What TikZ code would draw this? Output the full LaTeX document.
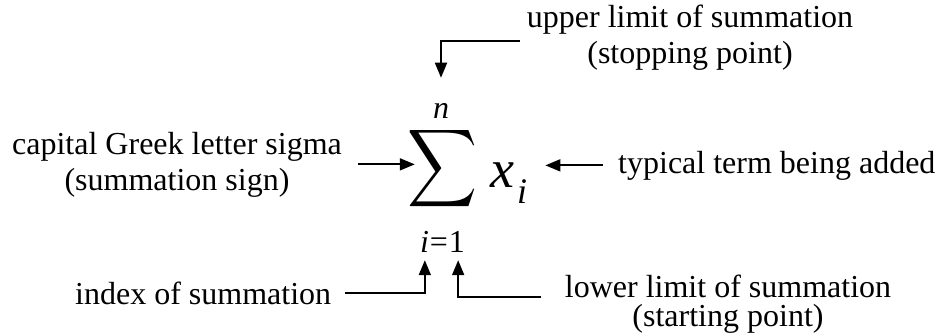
\documentclass[tikz,border=0pt]{standalone}
\usepackage{fontspec}
\setmainfont{Liberation Serif}
\usepackage{graphicx}
\usetikzlibrary{arrows.meta}
\begin{document}
\begin{tikzpicture}[x=1pt,y=-1pt,
  lbl/.style={inner sep=0pt, font=\fontsize{32}{36}\selectfont, align=center},
  arr/.style={line width=1.8pt, -{Triangle[length=15pt,width=12pt]}},
  mth/.style={inner sep=0pt}]
\useasboundingbox (0,0) rectangle (941,333);
% labels (base anchor = baseline of the last line)
\node[lbl, anchor=base] (up) at (690,63) {upper limit of summation\\(stopping point)};
\node[lbl, anchor=base] (cap) at (177,190) {capital Greek letter sigma\\(summation sign)};
\node[lbl, anchor=base west] (typ) at (618,173) {typical term being added};
\node[lbl, anchor=base west] (idx) at (75,304) {index of summation};
\node[lbl, anchor=base, font=\fontsize{32}{29}\selectfont] (low) at (728,326) {lower limit of summation\\(starting point)};
% formula
\node[mth] (sig) at (443,168.5) {\resizebox*{70pt}{87pt}{$\displaystyle\sum$}};
\node[mth, anchor=base, font=\fontsize{32}{36}\selectfont\itshape] (n) at (441,118) {n};
\node[mth, anchor=base, font=\fontsize{32}{36}\selectfont] (lim) at (442.5,252) {\textit{i}\kern1pt=\kern1pt1};
\node[mth, anchor=base west] (xi) at (490,187) {\fontsize{54}{54}\selectfont\itshape x\kern3pt\raisebox{-16pt}{\fontsize{36}{36}\selectfont i}};
% connectors
\draw[arr] ([xshift=-7pt,yshift=-4pt]up.west) -| ([yshift=25pt]n.north);
\draw[arr] ([xshift=16pt]cap.east) -- ([xshift=7pt]sig.west |- cap.east);
\draw[arr] ([xshift=-15pt]typ.west) -- ([xshift=18pt]xi.east |- typ.west);
\draw[arr] ([xshift=14pt]idx.east) -| ([xshift=5pt,yshift=-8pt]lim.south west);
\draw[arr] ([xshift=-24pt,yshift=7pt]low.west) -| ([xshift=-7pt,yshift=-8pt]lim.south east);
\end{tikzpicture}
\end{document}
